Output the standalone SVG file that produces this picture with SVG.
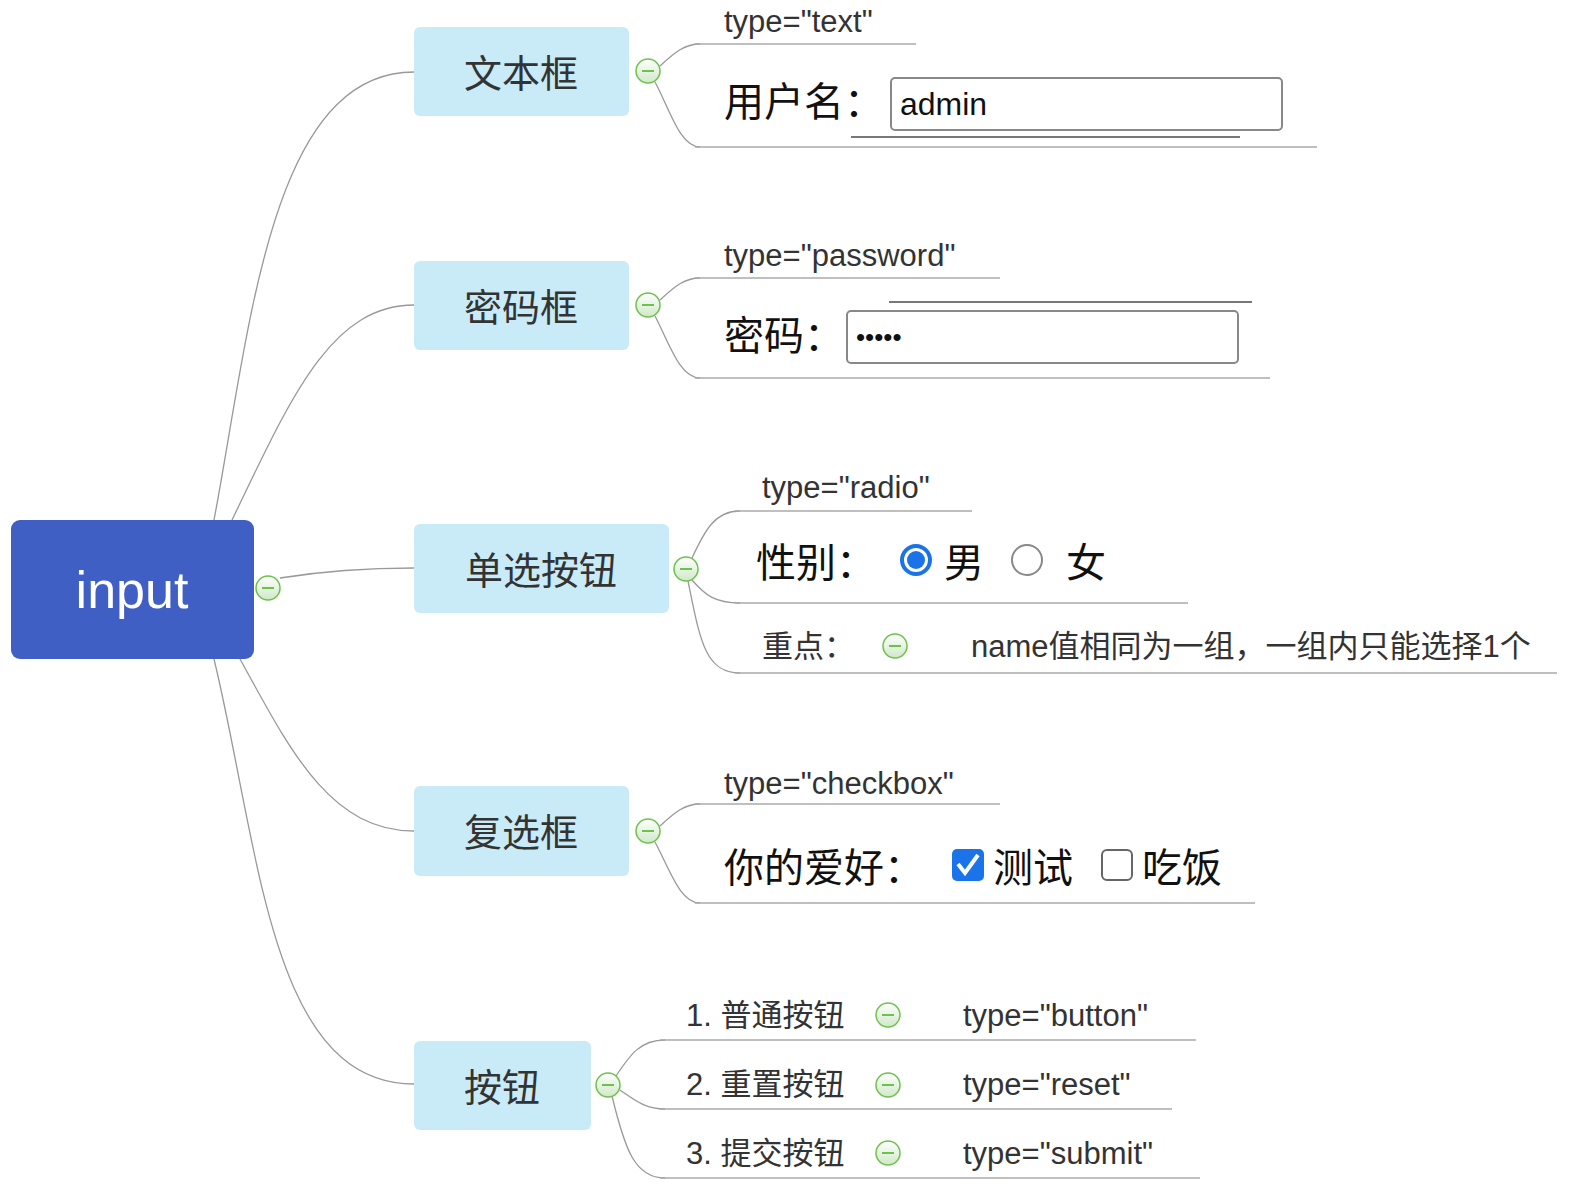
<svg xmlns="http://www.w3.org/2000/svg" width="1572" height="1192" viewBox="0 0 1572 1192">
<defs>
<linearGradient id="cg" x1="0" y1="0" x2="0" y2="1"><stop offset="0" stop-color="#ffffff"/><stop offset="1" stop-color="#cfe8c8"/></linearGradient>
<g id="col"><circle r="12" fill="url(#cg)" stroke="#6cc24a" stroke-width="1.5"/><line x1="-6" y1="0" x2="6" y2="0" stroke="#6cc24a" stroke-width="2"/></g>
</defs>
<style>
text{font-family:"Liberation Sans","Noto Sans CJK SC",sans-serif;fill:#333}
.node{fill:#c9ebf7}
.nt{font-size:38px;text-anchor:middle}
.s{font-size:31px}
.b{font-size:40px;fill:#111}
.c{fill:none;stroke:#999;stroke-width:1.3}
.u{stroke:#aaa;stroke-width:1.5}
.box{fill:#fff;stroke:#888;stroke-width:2}
</style>
<rect width="1572" height="1192" fill="#fff"/>
<g id="connectors">
<path class="c" d="M214,520 C250,330 270,72 414,72"/>
<path class="c" d="M232,520 C290,400 330,305 414,305"/>
<path class="c" d="M280,578 C330,570 370,568 414,568"/>
<path class="c" d="M240,659 C290,750 330,831 414,831"/>
<path class="c" d="M214,659 C260,850 270,1084 414,1084"/>
<path class="c" d="M660,66 C675,52 685,44 700,44"/><line class="u" x1="695" y1="44" x2="916" y2="44"/>
<path class="c" d="M655,82 C670,110 680,147 700,147"/><line class="u" x1="695" y1="147" x2="1317" y2="147"/>
<path class="c" d="M660,300 C675,286 685,278 700,278"/><line class="u" x1="695" y1="278" x2="1000" y2="278"/>
<path class="c" d="M655,316 C670,345 680,378 700,378"/><line class="u" x1="695" y1="378" x2="1270" y2="378"/>
<path class="c" d="M692,558 C705,530 715,511 740,511"/><line class="u" x1="735" y1="511" x2="972" y2="511"/>
<path class="c" d="M692,580 C705,595 715,603 740,603"/><line class="u" x1="735" y1="603" x2="1188" y2="603"/>
<path class="c" d="M688,581 C700,640 705,673 740,673"/><line class="u" x1="735" y1="673" x2="1557" y2="673"/>
<path class="c" d="M660,826 C675,812 685,804 700,804"/><line class="u" x1="695" y1="804" x2="1000" y2="804"/>
<path class="c" d="M655,842 C670,870 680,903 700,903"/><line class="u" x1="695" y1="903" x2="1255" y2="903"/>
<path class="c" d="M616,1076 C630,1055 640,1040 665,1040"/><line class="u" x1="660" y1="1040" x2="1196" y2="1040"/>
<path class="c" d="M620,1090 C635,1100 645,1109 665,1109"/><line class="u" x1="660" y1="1109" x2="1172" y2="1109"/>
<path class="c" d="M612,1096 C625,1150 635,1178 665,1178"/><line class="u" x1="660" y1="1178" x2="1200" y2="1178"/>
</g>
<g id="root"><rect x="11" y="520" width="243" height="139" rx="9" fill="#3f5fc4"/><text x="132" y="608" font-size="52" text-anchor="middle" style="fill:#fff">input</text><use href="#col" x="268" y="588"/></g>
<g id="n1"><rect class="node" x="414" y="27" width="215" height="89" rx="6"/><text class="nt" x="521" y="87">文本框</text><use href="#col" x="648" y="71"/></g>
<g id="n2"><rect class="node" x="414" y="261" width="215" height="89" rx="6"/><text class="nt" x="521" y="321">密码框</text><use href="#col" x="648" y="305"/></g>
<g id="n3"><rect class="node" x="414" y="524" width="255" height="89" rx="6"/><text class="nt" x="541" y="584">单选按钮</text><use href="#col" x="686" y="569"/></g>
<g id="n4"><rect class="node" x="414" y="786" width="215" height="90" rx="6"/><text class="nt" x="521" y="846">复选框</text><use href="#col" x="648" y="831"/></g>
<g id="n5"><rect class="node" x="414" y="1041" width="177" height="89" rx="6"/><text class="nt" x="502" y="1101">按钮</text><use href="#col" x="608" y="1085"/></g>
<g id="text-leaf">
<text class="s" x="724" y="32">type="text"</text>
<text class="b" x="724" y="116">用户名：</text>
<rect class="box" x="891" y="78" width="391" height="52" rx="4"/>
<text x="900" y="115" font-size="32" style="fill:#111">admin</text>
<line x1="851" y1="137" x2="1240" y2="137" stroke="#777" stroke-width="2"/>
</g>
<g id="pw-leaf">
<text class="s" x="724" y="266">type="password"</text>
<line x1="889" y1="302" x2="1252" y2="302" stroke="#777" stroke-width="2"/>
<text class="b" x="724" y="350">密码：</text>
<rect class="box" x="847" y="311" width="391" height="52" rx="4"/>
<text x="856" y="346" font-size="26" style="fill:#111">•••••</text>
</g>
<g id="radio-leaf">
<text class="s" x="762" y="498">type="radio"</text>
<text class="b" x="756" y="577">性别：</text>
<circle cx="916" cy="560" r="14" fill="#fff" stroke="#1a73e8" stroke-width="4"/><circle cx="916" cy="560" r="9" fill="#1a73e8"/>
<text class="b" x="944" y="577">男</text>
<circle cx="1027" cy="560" r="15" fill="#fff" stroke="#888" stroke-width="2"/>
<text class="b" x="1066" y="577">女</text>
<text class="s" x="762" y="657">重点：</text>
<use href="#col" x="895" y="646"/>
<text class="s" x="971" y="657">name值相同为一组，一组内只能选择1个</text>
</g>
<g id="check-leaf">
<text class="s" x="724" y="794">type="checkbox"</text>
<text class="b" x="724" y="882">你的爱好：</text>
<rect x="952" y="849" width="32" height="32" rx="5" fill="#1a73e8"/>
<path d="M958,864 L965,873 L978,855" fill="none" stroke="#fff" stroke-width="4"/>
<text class="b" x="993" y="882">测试</text>
<rect x="1102" y="850" width="30" height="30" rx="5" fill="#fff" stroke="#666" stroke-width="2"/>
<text class="b" x="1142" y="882">吃饭</text>
</g>
<g id="btn-leaf">
<text class="s" x="686" y="1026">1. 普通按钮</text><use href="#col" x="888" y="1015"/><text class="s" x="963" y="1026">type="button"</text>
<text class="s" x="686" y="1095">2. 重置按钮</text><use href="#col" x="888" y="1085"/><text class="s" x="963" y="1095">type="reset"</text>
<text class="s" x="686" y="1164">3. 提交按钮</text><use href="#col" x="888" y="1153"/><text class="s" x="963" y="1164">type="submit"</text>
</g>
</svg>
